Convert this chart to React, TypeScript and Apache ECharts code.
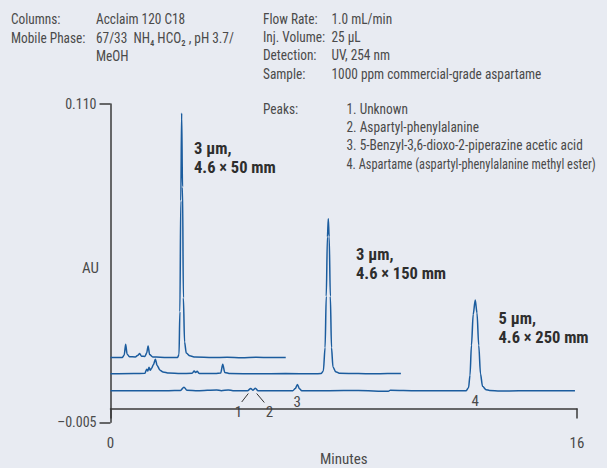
import React, { useEffect, useRef } from "react";
import * as echarts from "echarts";

// Axis ranges (minutes, absorbance units)
const TIME_MIN = 0;
const TIME_MAX = 16;
const AU_MIN = -0.005;
const AU_MAX = 0.11;
const X_TICKS = [0, 16];
const Y_TICKS = [-0.005, 0.11];

// Chromatogram traces as [minutes, AU]
const trace50mm: [number, number][] = [
  [0, 0.0184], [0.4, 0.0184], [0.47, 0.0193], [0.52, 0.0232], [0.57, 0.0196], [0.65, 0.0187],
  [0.85, 0.0186], [0.94, 0.0192], [1.0, 0.0199], [1.06, 0.0189], [1.18, 0.0188], [1.24, 0.02],
  [1.29, 0.0226], [1.34, 0.0195], [1.45, 0.0186], [1.7, 0.0185], [2.0, 0.0184], [2.3, 0.0184],
  [2.35, 0.0195], [2.38, 0.035], [2.41, 0.075], [2.44, 0.1067], [2.47, 0.08], [2.5, 0.04],
  [2.54, 0.024], [2.6, 0.02], [2.72, 0.019], [2.9, 0.0186], [3.5, 0.0184], [4.0, 0.0185],
  [4.5, 0.0183], [5.0, 0.0185], [5.5, 0.0184], [6.01, 0.0184],
];

const trace150mm: [number, number][] = [
  [0, 0.0125], [0.8, 0.0126], [1.18, 0.0127], [1.24, 0.0142], [1.28, 0.0135], [1.32, 0.0149],
  [1.36, 0.0138], [1.41, 0.0145], [1.47, 0.0158], [1.54, 0.0178], [1.6, 0.0155], [1.7, 0.0138],
  [1.8, 0.0132], [2.0, 0.0128], [2.4, 0.0126], [2.8, 0.0127], [2.87, 0.0135], [2.92, 0.013],
  [2.97, 0.0134], [3.05, 0.0126], [3.6, 0.0126], [3.78, 0.0128], [3.85, 0.016], [3.92, 0.013],
  [4.1, 0.0126], [5.0, 0.0125], [6.0, 0.0126], [7.0, 0.0125], [7.22, 0.0126], [7.3, 0.0135],
  [7.36, 0.022], [7.4, 0.0405], [7.44, 0.062], [7.47, 0.0685], [7.5, 0.062], [7.54, 0.0405],
  [7.58, 0.022], [7.63, 0.015], [7.72, 0.0133], [7.85, 0.0127], [8.5, 0.0126], [9.0, 0.0125],
  [9.5, 0.0126], [9.96, 0.0126],
];

const trace250mm: [number, number][] = [
  [0, 0.0064], [1.0, 0.0064], [2.0, 0.0064], [2.4, 0.0065], [2.52, 0.0077], [2.62, 0.0066],
  [3.0, 0.0064], [3.64, 0.0067], [3.8, 0.0064], [4.04, 0.0067], [4.2, 0.0064], [4.7, 0.0064],
  [4.81, 0.0072], [4.88, 0.0066], [4.97, 0.0073], [5.06, 0.0064], [5.6, 0.0064], [6.25, 0.0064],
  [6.34, 0.0072], [6.41, 0.0087], [6.48, 0.0071], [6.56, 0.0064], [7.5, 0.0064], [8.5, 0.0065],
  [9.53, 0.0062], [9.6, 0.0066], [10.5, 0.0064], [11.5, 0.0064], [12.2, 0.0064], [12.28, 0.0075],
  [12.33, 0.012], [12.38, 0.0228], [12.44, 0.034], [12.51, 0.0392], [12.57, 0.0345],
  [12.63, 0.0228], [12.69, 0.0125], [12.76, 0.008], [12.88, 0.0068], [13.0, 0.0065],
  [13.36, 0.0063], [14.0, 0.0064], [15.0, 0.0064], [15.93, 0.0064],
];

// Method conditions
const leftLabels = ["Columns:", "Mobile Phase:"];
const leftValues = ["Acclaim 120 C18", "67/33  NH\u2084 HCO\u2082 , pH 3.7/", "MeOH"];
const rightLabels = ["Flow Rate:", "Inj. Volume:", "Detection:", "Sample:", "Peaks:"];
const rightValues = ["1.0 mL/min", "25 \u03bcL", "UV, 254 nm", "1000 ppm commercial-grade aspartame"];
const peakNames = [
  "1. Unknown",
  "2. Aspartyl-phenylalanine",
  "3. 5-Benzyl-3,6-dioxo-2-piperazine acetic acid",
  "4. Aspartame (aspartyl-phenylalanine methyl ester)",
];
const columnTags = [
  ["3 \u03bcm,", "4.6 \u00d7 50 mm"],
  ["3 \u03bcm,", "4.6 \u00d7 150 mm"],
  ["5 \u03bcm,", "4.6 \u00d7 250 mm"],
];
const peakNumbers = ["1", "2", "3", "4"];

const FONT = "'Liberation Sans Narrow', 'Arial Narrow', 'Roboto Condensed', Roboto, sans-serif";
const TEXT = "#4a4a4a";
const LINE = "#1b5c9e";
const AXIS = "#3a3a3a";
// horizontal squeeze to approximate a condensed face
const NARROW = 0.92;

function txt(text: string, x: number, y: number, opts: any = {}, scaleX = NARROW) {
  return {
    type: "text",
    x,
    y,
    scaleX,
    silent: true,
    style: {
      text,
      fontFamily: FONT,
      fontSize: 14.5,
      fill: TEXT,
      verticalAlign: "middle",
      align: "left",
      ...opts,
    },
  };
}

export default function App() {
  const ref = useRef<HTMLDivElement>(null);

  useEffect(() => {
    if (!ref.current) return;
    const chart = echarts.init(ref.current, undefined, { renderer: "svg" });

    const leftRows = [19, 37.5, 56];
    const rightRows = [18.5, 36.7, 55, 73.3, 108.3];
    const peakRows = [108.3, 126.7, 145, 163.3];
    // the longest peak name is squeezed a little more so it stays inside the page
    const peakScale = [NARROW, NARROW, NARROW, 0.855];

    const graphic: any[] = [];
    leftLabels.forEach((t, i) => graphic.push(txt(t, 11, leftRows[i])));
    leftValues.forEach((t, i) => graphic.push(txt(t, 96, leftRows[i])));
    rightLabels.forEach((t, i) => graphic.push(txt(t, 263, rightRows[i])));
    rightValues.forEach((t, i) => graphic.push(txt(t, 331.5, rightRows[i])));
    peakNames.forEach((t, i) => graphic.push(txt(t, 346.5, peakRows[i], {}, peakScale[i])));

    const tagPos = [
      [194, 148.5],
      [356, 254.5],
      [498.5, 318.5],
    ];
    columnTags.forEach((lines, i) => {
      lines.forEach((t, j) =>
        graphic.push(
          txt(
            t,
            tagPos[i][0],
            tagPos[i][1] + j * 18.5,
            { fontWeight: "bold", fill: "#2e2e2e", fontSize: 16.5 },
            1
          )
        )
      );
    });

    const numPos = [
      [238.5, 411.5],
      [269.5, 411.5],
      [297.3, 401.5],
      [475.3, 400.5],
    ];
    peakNumbers.forEach((t, i) =>
      graphic.push(txt(t, numPos[i][0], numPos[i][1], { align: "center", fontSize: 15 }, 1))
    );
    graphic.push({
      type: "line",
      silent: true,
      shape: { x1: 241.7, y1: 402, x2: 248.3, y2: 393.5 },
      style: { stroke: "#333", lineWidth: 1 },
    });
    graphic.push({
      type: "line",
      silent: true,
      shape: { x1: 256.7, y1: 393.5, x2: 264.3, y2: 402.5 },
      style: { stroke: "#333", lineWidth: 1 },
    });
    graphic.push(txt("AU", 99, 268, { align: "right", fontSize: 15 }, 1));

    const seriesStyle = {
      type: "line",
      showSymbol: false,
      smooth: 0.3,
      smoothMonotone: "x",
      lineStyle: { color: LINE, width: 1.5 },
      itemStyle: { color: LINE },
      silent: true,
    };

    chart.setOption({
      animation: false,
      backgroundColor: "#e8ebf2",
      grid: {
        left: 110.5,
        right: 30,
        top: 104,
        bottom: 45.7,
        containLabel: false,
        outerBoundsMode: "none",
      },
      xAxis: {
        type: "value",
        min: TIME_MIN,
        max: TIME_MAX,
        name: "Minutes",
        nameLocation: "middle",
        nameGap: 29,
        nameMoveOverlap: false,
        nameTextStyle: { fontFamily: FONT, fontSize: 15, color: TEXT },
        axisLine: { show: true, lineStyle: { color: AXIS, width: 1.5 } },
        axisTick: { show: true, customValues: X_TICKS, length: 10, lineStyle: { color: AXIS, width: 1.5 } },
        axisLabel: {
          customValues: X_TICKS,
          margin: 13,
          fontFamily: FONT,
          fontSize: 15,
          color: TEXT,
        },
        splitLine: { show: false },
      },
      yAxis: {
        type: "value",
        min: AU_MIN,
        max: AU_MAX,
        axisLine: { show: true, lineStyle: { color: AXIS, width: 1.5 } },
        axisTick: { show: true, customValues: Y_TICKS, length: 11, lineStyle: { color: AXIS, width: 1.5 } },
        axisLabel: {
          customValues: Y_TICKS,
          margin: 14,
          fontFamily: FONT,
          fontSize: 14,
          color: TEXT,
          formatter: (v: number) => (v < 0 ? "\u2013" + Math.abs(v).toFixed(3) : v.toFixed(3)),
        },
        splitLine: { show: false },
      },
      series: [
        { ...seriesStyle, name: "4.6 x 50 mm", data: trace50mm },
        { ...seriesStyle, name: "4.6 x 150 mm", data: trace150mm },
        { ...seriesStyle, name: "4.6 x 250 mm", data: trace250mm },
      ],
      graphic,
    });

    return () => chart.dispose();
  }, []);

  return (
    <div
      ref={ref}
      style={{ position: "fixed", left: 0, top: 0, width: 607, height: 468 }}
    />
  );
}
